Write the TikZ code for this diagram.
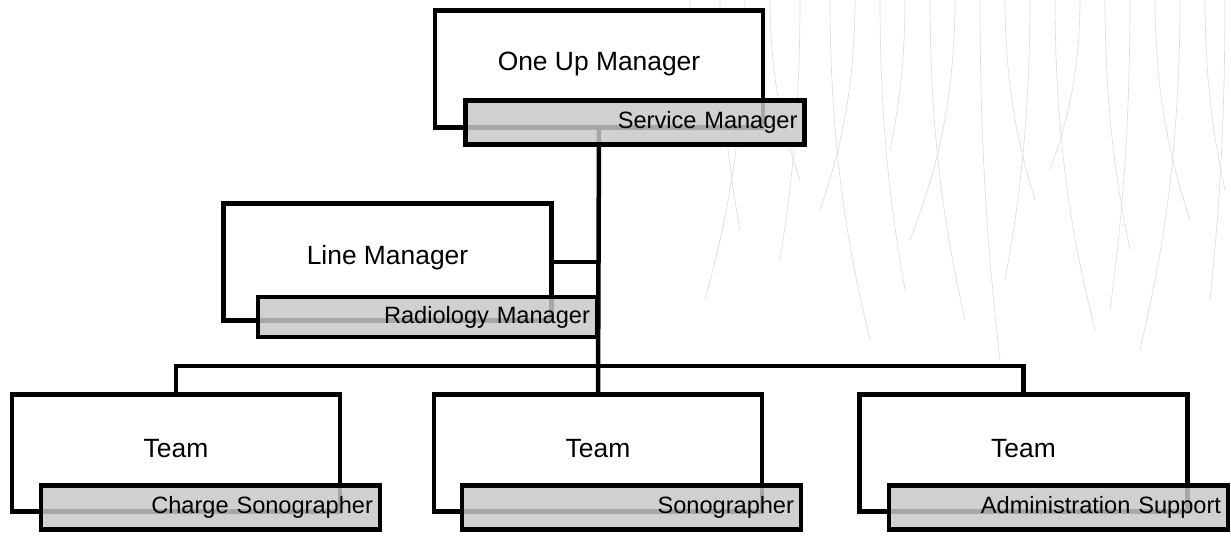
\documentclass[tikz,border=0pt]{standalone}
\usepackage{fontspec}
\setmainfont{Liberation Sans}
\usetikzlibrary{positioning}
\definecolor{subgray}{RGB}{200,200,200}
\definecolor{vinegray}{RGB}{222,222,222}

\tikzset{
	box/.style={draw, fill=white, line width=4.5pt, minimum width=328pt, minimum height=117pt, inner sep=0pt},
	sub/.style={draw, fill=subgray, fill opacity=0.84, text opacity=1, line width=4.5pt, minimum height=44pt,
		text width=325pt, align=right, inner xsep=7pt, inner ysep=0pt, font=\fontsize{23.6}{26}\selectfont},
	title/.style={inner sep=0pt, font=\fontsize{26.4}{30}\selectfont},
	wire/.style={line width=4.5pt},
	vine/.style={vinegray, line width=0.7pt}
}

\begin{document}
\begin{tikzpicture}[x=1pt, y=-1pt]
	\useasboundingbox (0,0) rectangle (1231,539);
	
	% faint strands in the background
	\foreach \x/\d/\b in {690/120/-30, 720/230/20, 745/300/-40, 770/180/30, 800/260/-20, 830/340/40,
		855/210/-35, 880/290/25, 905/150/-15, 930/320/35, 955/240/-45, 980/360/20, 1005/200/30,
		1030/280/-25, 1055/330/40, 1080/170/-30, 1105/250/25, 1130/310/-20, 1155/220/35,
		1180/350/-40, 1205/190/20, 1225/300/-15}
		\draw[vine] (\x,-2) .. controls (\x,0.5*\d) and (\x+0.6*\b,0.8*\d) .. (\x+\b,\d);
	
	\node[box] (a1) at (599,69) {};
	\node[title] (a1t) at ([yshift=-56pt]a1.north) {One Up Manager};
	\node[box] (b1) at (387.5,262) {};
	\node[title] (b1t) at ([yshift=-56pt]b1.north) {Line Manager};
	\node[box] (c1) at (176,453) {};
	\node[title] (c1t) at ([yshift=-56pt]c1.north) {Team};
	\node[box] (c2) at (598,453) {};
	\node[title] (c2t) at ([yshift=-56pt]c2.north) {Team};
	\node[box] (c3) at (1023.5,453) {};
	\node[title] (c3t) at ([yshift=-56pt]c3.north) {Team};
	
	\coordinate (bus) at (c2.north |- 0,366);
	\draw[wire] (a1.south) -- (c2.north);
	\draw[wire] (b1.east) -- (b1.east -| a1.south);
	\draw[wire] (c1.north) |- (bus) -| (c3.north);
	
	\node[sub] (a2) at (635,122.5) {Service Manager};
	\node[sub, minimum height=40pt] (b2) at (427.5,317) {Radiology Manager};
	\node[sub] (d1) at (210.5,507.5) {Charge Sonographer};
	\node[sub] (d2) at (631.5,507.5) {Sonographer};
	\node[sub] (d3) at (1058.5,507.5) {Administration Support};
\end{tikzpicture}
\end{document}
